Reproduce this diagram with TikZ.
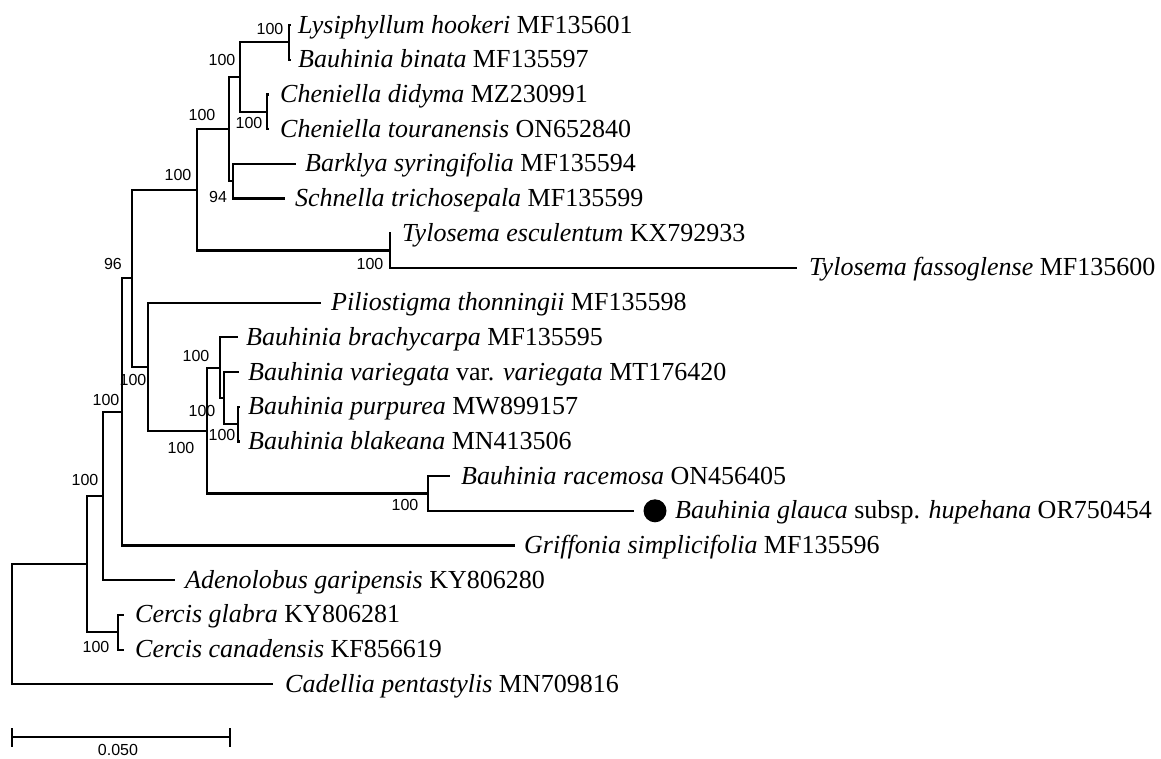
\documentclass[tikz,border=0pt]{standalone}
\usepackage{fontspec}
\setmainfont{Liberation Serif}
\newfontfamily\bsfont{Liberation Sans}
\begin{document}
\begin{tikzpicture}[x=1pt,y=-1pt,
  branch/.style={line width=2.2pt, black},
  taxon/.style={anchor=base west, inner sep=0pt, font=\fontsize{26}{30}\selectfont},
  boot/.style={inner sep=0pt, font=\bsfont\fontsize{16}{19}\selectfont}]
\useasboundingbox (0,0) rectangle (1161,758);
% tips
\coordinate (tLys) at (291,25);
\coordinate (tBin) at (291,59.7);
\coordinate (tDid) at (269,94.4);
\coordinate (tTou) at (269,129.1);
\coordinate (tBar) at (296,163.8);
\coordinate (tSch) at (285,198.5);
\coordinate (tEsc) at (391,233.2);
\coordinate (tFas) at (797,267.9);
\coordinate (tPil) at (321,302.6);
\coordinate (tBra) at (238,337.3);
\coordinate (tVar) at (239,372);
\coordinate (tPur) at (240,406.7);
\coordinate (tBla) at (240,441.4);
\coordinate (tRac) at (450,476.1);
\coordinate (tGla) at (634,510.8);
\coordinate (tGri) at (515,545.5);
\coordinate (tAde) at (175,580.2);
\coordinate (tCgl) at (124,614.9);
\coordinate (tCca) at (124,649.6);
\coordinate (tCad) at (273,684.3);
% internal nodes
\coordinate (K) at (289,42.35);
\coordinate (L) at (267,111.75);
\coordinate (I) at (240,77.05);
\coordinate (J) at (233,181.15);
\coordinate (H) at (229,129.1);
\coordinate (T) at (390,250.55);
\coordinate (F) at (197,189.8);
\coordinate (P) at (238,424.05);
\coordinate (O) at (224,398.0);
\coordinate (M) at (220,367.7);
\coordinate (Rac) at (428,493.45);
\coordinate (N) at (207,430.6);
\coordinate (G) at (148,366.6);
\coordinate (E) at (132,278.2);
\coordinate (D) at (122,411.85);
\coordinate (B) at (103,496.0);
\coordinate (C) at (118,632.25);
\coordinate (A) at (87,564.1);
\coordinate (R) at (12,624.2);
% branches
\draw[branch] (R) |- (A); \draw[branch] (R) |- (tCad);
\draw[branch] (A) |- (B); \draw[branch] (A) |- (C);
\draw[branch] (C) |- (tCgl); \draw[branch] (C) |- (tCca);
\draw[branch] (B) |- (D); \draw[branch] (B) |- (tAde);
\draw[branch] (D) |- (E); \draw[branch] (D) |- (tGri);
\draw[branch] (E) |- (F); \draw[branch] (E) |- (G);
\draw[branch] (F) |- (H); \draw[branch] (F) |- (T);
\draw[branch] (H) |- (I); \draw[branch] (H) |- (J);
\draw[branch] (I) |- (K); \draw[branch] (I) |- (L);
\draw[branch] (K) |- (tLys); \draw[branch] (K) |- (tBin);
\draw[branch] (L) |- (tDid); \draw[branch] (L) |- (tTou);
\draw[branch] (J) |- (tBar); \draw[branch] (J) |- (tSch);
\draw[branch] (T) |- (tEsc); \draw[branch] (T) |- (tFas);
\draw[branch] (G) |- (tPil); \draw[branch] (G) |- (N);
\draw[branch] (N) |- (M); \draw[branch] (N) |- (Rac);
\draw[branch] (M) |- (tBra); \draw[branch] (M) |- (O);
\draw[branch] (O) |- (tVar); \draw[branch] (O) |- (P);
\draw[branch] (P) |- (tPur); \draw[branch] (P) |- (tBla);
\draw[branch] (Rac) |- (tRac); \draw[branch] (Rac) |- (tGla);
% taxon labels
\node[taxon] (nLys) at (298,33) {\textit{Lysiphyllum hookeri} MF135601};
\node[taxon] (nBin) at (298,67.7) {\textit{Bauhinia binata} MF135597};
\node[taxon] (nDid) at (280,102.4) {\textit{Cheniella didyma} MZ230991};
\node[taxon] (nTou) at (280,137.1) {\textit{Cheniella touranensis} ON652840};
\node[taxon] (nBar) at (305,171.8) {\textit{Barklya syringifolia} MF135594};
\node[taxon] (nSch) at (295,206.5) {\textit{Schnella trichosepala} MF135599};
\node[taxon] (nEsc) at (402,241.2) {\textit{Tylosema esculentum} KX792933};
\node[taxon] (nFas) at (809,275.9) {\textit{Tylosema fassoglense} MF135600};
\node[taxon] (nPil) at (331,310.6) {\textit{Piliostigma thonningii} MF135598};
\node[taxon] (nBra) at (246,345.3) {\textit{Bauhinia brachycarpa} MF135595};
\node[taxon] (nVar) at (248,380) {\textit{Bauhinia variegata} var. \textit{variegata} MT176420};
\node[taxon] (nPur) at (248,414.7) {\textit{Bauhinia purpurea} MW899157};
\node[taxon] (nBla) at (248,449.4) {\textit{Bauhinia blakeana} MN413506};
\node[taxon] (nRac) at (461,484.1) {\textit{Bauhinia racemosa} ON456405};
\node[circle, fill=black, minimum size=23pt, inner sep=0pt] (dot) at (655,510.8) {};
\node[taxon] (nGla) at (675,518.8) {\textit{Bauhinia glauca} subsp. \textit{hupehana} OR750454};
\node[taxon] (nGri) at (524,553.5) {\textit{Griffonia simplicifolia} MF135596};
\node[taxon] (nAde) at (185,588.2) {\textit{Adenolobus garipensis} KY806280};
\node[taxon] (nCgl) at (135,622.9) {\textit{Cercis glabra} KY806281};
\node[taxon] (nCca) at (135,657.6) {\textit{Cercis canadensis} KF856619};
\node[taxon] (nCad) at (285,692.3) {\textit{Cadellia pentastylis} MN709816};
% bootstrap values
\node[boot] (bK) at (270,29) {100};
\node[boot] (bI) at (222,60) {100};
\node[boot] (bL) at (249,123) {100};
\node[boot] (bH) at (202,115) {100};
\node[boot] (bJ) at (218,197) {94};
\node[boot] (bF) at (178,175) {100};
\node[boot] (bT) at (370,264) {100};
\node[boot] (bE) at (113,264) {96};
\node[boot] (bG) at (133,380) {100};
\node[boot] (bN) at (181,448) {100};
\node[boot] (bM) at (196,356) {100};
\node[boot] (bO) at (202,411) {100};
\node[boot] (bP) at (222,435) {100};
\node[boot] (bRac) at (405,505) {100};
\node[boot] (bD) at (106,400) {100};
\node[boot] (bB) at (85,480) {100};
\node[boot] (bC) at (96,647) {100};
% scale bar
\coordinate (s1) at (12,737);
\coordinate (s2) at (230,737);
\draw[branch] (s1) -- (s2);
\draw[branch] ([yshift=9pt]s1) -- ([yshift=-10pt]s1);
\draw[branch] ([yshift=9pt]s2) -- ([yshift=-10pt]s2);
\node[boot] (sl) at (118,750) {0.050};
\end{tikzpicture}
\end{document}
